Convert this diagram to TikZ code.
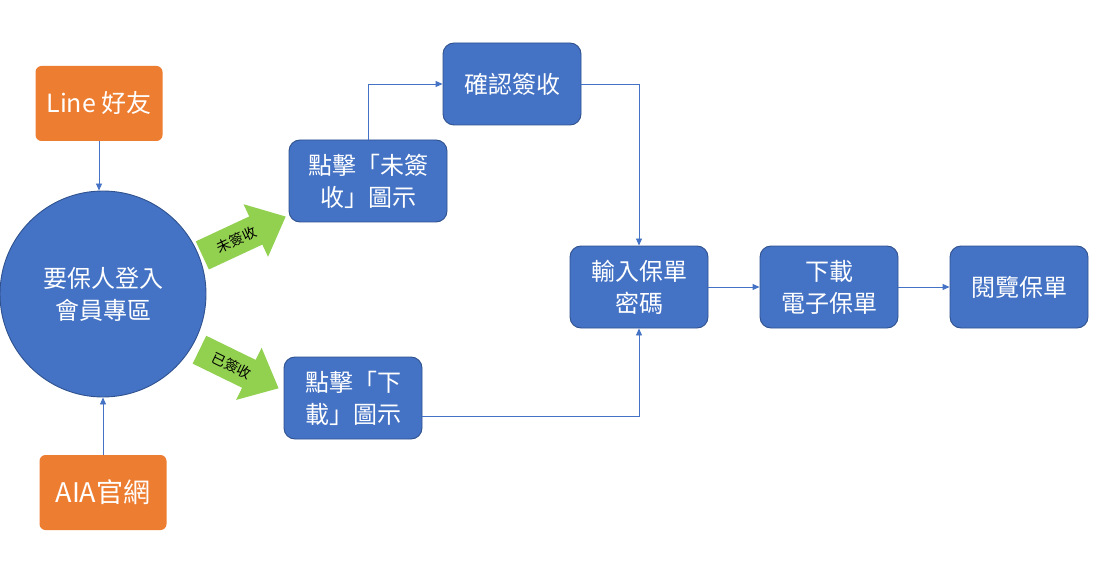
\documentclass[tikz,border=0pt]{standalone}
\usepackage{fontspec}
\setmainfont{Noto Sans CJK TC}
\usetikzlibrary{calc,arrows.meta}
\definecolor{bfill}{HTML}{4472C4}
\definecolor{bline}{HTML}{2F528F}
\definecolor{ofill}{HTML}{ED7D31}
\definecolor{gfill}{HTML}{92D050}
\begin{document}
\begin{tikzpicture}[x=1pt,y=-1pt,
  bluebox/.style={draw=bline,line width=0.9pt,fill=bfill,rounded corners=11pt,
    text=white,align=center,minimum width=138pt,minimum height=82pt,inner sep=2pt,
    font=\fontsize{24}{32}\selectfont},
  orbox/.style={fill=ofill,rounded corners=6pt,text=white,align=center,
    minimum width=127pt,minimum height=75pt,font=\fontsize{25}{32}\selectfont},
  conn/.style={draw=bfill,line width=0.9pt,-{Triangle[length=7pt,width=6pt]}},
  garrow/.style={fill=gfill},
  glabel/.style={font=\fontsize{14}{16}\selectfont,text=black,inner sep=0pt}]
\useasboundingbox (0,0) rectangle (1107,569);
\fill[white] (0,0) rectangle (1107,569);

\node[orbox] (line) at (99,103.5) {Line 好友};
\node[orbox,font=\fontsize{27}{32}\selectfont] (aia) at (103,492.5) {AIA官網};
\node[circle,draw=bline,line width=0.9pt,fill=bfill,minimum size=206pt,text=white,
  align=center,font=\fontsize{24}{32}\selectfont] (circ) at (103,294) {要保人登入\\會員專區};

\node[bluebox,minimum width=158pt] (un) at (368,181) {點擊「未簽\\收」圖示};
\node[bluebox] (cf) at (512,84) {確認簽收};
\node[bluebox] (dl) at (353,398) {點擊「下\\載」圖示};
\node[bluebox] (pw) at (639,287) {輸入保單\\密碼};
\node[bluebox] (ep) at (829,287) {下載\\電子保單};
\node[bluebox] (rd) at (1019,287) {閱覽保單};

% green arrows
\begin{scope}[shift={(244,236)},rotate=25]
  \fill[garrow] (-46,-15.5) -- (13,-15.5) -- (13,-29) -- (46,0) -- (13,29) -- (13,15.5) -- (-46,15.5) -- cycle;
  \node[glabel,rotate=25] (lu) at (-8,0) {未簽收};
\end{scope}
\begin{scope}[shift={(239,369)},rotate=-26]
  \fill[garrow] (-44,-15.5) -- (11,-15.5) -- (11,-29) -- (44,0) -- (11,29) -- (11,15.5) -- (-44,15.5) -- cycle;
  \node[glabel,rotate=-26] (ls) at (-8,0) {已簽收};
\end{scope}

\draw[conn] (line.south) -- (line.south |- circ.north);
\draw[conn] (aia.north) -- (aia.north |- circ.south);
\draw[conn] (un.north) |- (cf.west);
\draw[conn] (cf.east) -| (pw.north);
\draw[conn] ($(dl.east)+(0,18)$) -| (pw.south);
\draw[conn] (pw.east) -- (ep.west);
\draw[conn] (ep.east) -- (rd.west);
\end{tikzpicture}
\end{document}
